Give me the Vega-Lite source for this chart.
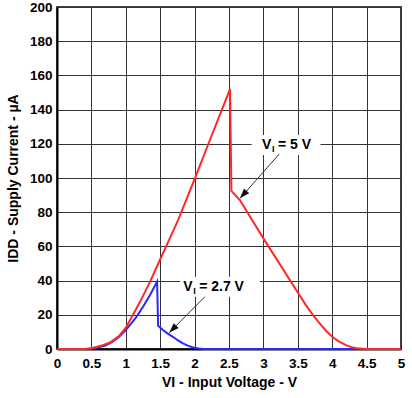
{
  "$schema": "https://vega.github.io/schema/vega-lite/v6.json",
  "width": 344,
  "height": 342,
  "autosize": {"type": "none"},
  "padding": {"left": 57, "top": 7, "right": 11, "bottom": 49},
  "background": "white",
  "config": {
    "view": {"stroke": "#000", "strokeWidth": 1.5},
    "font": "Liberation Sans",
    "axis": {
      "grid": true, "gridColor": "#333", "gridWidth": 1, "gridOpacity": 1,
      "ticks": false, "domainColor": "#000", "domainWidth": 2,
      "labelFont": "Liberation Sans", "labelFontWeight": "bold", "labelFontSize": 13.5, "labelColor": "#000",
      "titleFont": "Liberation Sans", "titleFontWeight": "bold", "titleFontSize": 14, "titleColor": "#000",
      "labelFlush": false, "labelOverlap": false
    },
    "axisX": {"labelPadding": 7, "titlePadding": 6},
    "axisY": {"labelPadding": 5, "titlePadding": 9}
  },
  "datasets": {
    "curves": [
      {"series": "5 V", "v": 0, "i": 0}, {"series": "5 V", "v": 0.4, "i": 0}, {"series": "5 V", "v": 0.5, "i": 0.5},
      {"series": "5 V", "v": 0.57, "i": 1.2}, {"series": "5 V", "v": 0.65, "i": 2}, {"series": "5 V", "v": 0.77, "i": 3.8},
      {"series": "5 V", "v": 0.9, "i": 7.5}, {"series": "5 V", "v": 1.0, "i": 12.5}, {"series": "5 V", "v": 1.105, "i": 20},
      {"series": "5 V", "v": 1.2, "i": 27}, {"series": "5 V", "v": 1.3, "i": 35}, {"series": "5 V", "v": 1.36, "i": 40},
      {"series": "5 V", "v": 1.5, "i": 52.5}, {"series": "5 V", "v": 1.64, "i": 64.7}, {"series": "5 V", "v": 1.76, "i": 75.4},
      {"series": "5 V", "v": 2.0, "i": 99.4}, {"series": "5 V", "v": 2.25, "i": 125}, {"series": "5 V", "v": 2.515, "i": 152},
      {"series": "5 V", "v": 2.535, "i": 92.5}, {"series": "5 V", "v": 2.66, "i": 87}, {"series": "5 V", "v": 3.0, "i": 64.7},
      {"series": "5 V", "v": 3.5, "i": 33}, {"series": "5 V", "v": 3.62, "i": 25.5}, {"series": "5 V", "v": 3.73, "i": 19.3},
      {"series": "5 V", "v": 3.82, "i": 14.8}, {"series": "5 V", "v": 3.91, "i": 10.7},
      {"series": "5 V", "v": 4.0, "i": 7.2}, {"series": "5 V", "v": 4.1, "i": 4.3}, {"series": "5 V", "v": 4.2, "i": 2.3},
      {"series": "5 V", "v": 4.28, "i": 1.1},
      {"series": "5 V", "v": 4.36, "i": 0.4}, {"series": "5 V", "v": 4.5, "i": 0}, {"series": "5 V", "v": 5, "i": 0},
      {"series": "2.7 V", "v": 0, "i": 0}, {"series": "2.7 V", "v": 0.45, "i": 0}, {"series": "2.7 V", "v": 0.55, "i": 0.5},
      {"series": "2.7 V", "v": 0.7, "i": 2}, {"series": "2.7 V", "v": 0.8, "i": 4}, {"series": "2.7 V", "v": 0.9, "i": 7},
      {"series": "2.7 V", "v": 1.0, "i": 11}, {"series": "2.7 V", "v": 1.15, "i": 18.5}, {"series": "2.7 V", "v": 1.25, "i": 24.7},
      {"series": "2.7 V", "v": 1.35, "i": 31.5}, {"series": "2.7 V", "v": 1.455, "i": 39.4}, {"series": "2.7 V", "v": 1.47, "i": 13.6},
      {"series": "2.7 V", "v": 1.54, "i": 11.1}, {"series": "2.7 V", "v": 1.61, "i": 9.0}, {"series": "2.7 V", "v": 1.69, "i": 7.0},
      {"series": "2.7 V", "v": 1.76, "i": 5.0}, {"series": "2.7 V", "v": 1.83, "i": 3.3},
      {"series": "2.7 V", "v": 1.9, "i": 2.0}, {"series": "2.7 V", "v": 1.98, "i": 0.9}, {"series": "2.7 V", "v": 2.06, "i": 0.3},
      {"series": "2.7 V", "v": 2.13, "i": 0}, {"series": "2.7 V", "v": 5, "i": 0}
    ],
    "notes": [
      {"label": "5 V", "x": 2.98, "y": 119.3, "sub": "I", "rest": "= 5 V", "bx1": 2.83, "bx2": 3.83, "by1": 113.5, "by2": 125.1, "ax1": 3.23, "ay1": 114, "ax2": 2.66, "ay2": 88.1},
      {"label": "2.7 V", "x": 1.834, "y": 36.4, "sub": "I", "rest": "= 2.7 V", "bx1": 1.79, "bx2": 2.95, "by1": 30.6, "by2": 42.2, "ax1": 2.15, "ay1": 30.6, "ax2": 1.63, "ay2": 9.5}
    ]
  },
  "layer": [
    {
      "data": {"name": "notes"},
      "mark": {"type": "rect", "fill": "white", "stroke": null},
      "encoding": {
        "x": {"field": "bx1", "type": "quantitative", "scale": {"domain": [0, 5]}, "axis": {"values": [0, 0.5, 1, 1.5, 2, 2.5, 3, 3.5, 4, 4.5, 5], "format": "~r", "title": "VI - Input Voltage - V"}},
        "x2": {"field": "bx2"},
        "y": {"field": "by1", "type": "quantitative", "scale": {"domain": [0, 200]}, "axis": {"values": [0, 20, 40, 60, 80, 100, 120, 140, 160, 180, 200], "format": "d", "title": "IDD - Supply Current - µA"}},
        "y2": {"field": "by2"}
      }
    },
    {
      "data": {"name": "curves"},
      "transform": [{"filter": "datum.series === '2.7 V'"}],
      "mark": {"type": "line", "color": "#2828ff", "strokeWidth": 2},
      "encoding": {
        "x": {"field": "v", "type": "quantitative", "axis": {"values": [0, 0.5, 1, 1.5, 2, 2.5, 3, 3.5, 4, 4.5, 5], "format": "~r", "title": "VI - Input Voltage - V"}},
        "y": {"field": "i", "type": "quantitative", "axis": {"values": [0, 20, 40, 60, 80, 100, 120, 140, 160, 180, 200], "format": "d", "title": "IDD - Supply Current - µA"}}
      }
    },
    {
      "data": {"name": "curves"},
      "transform": [{"filter": "datum.series === '5 V'"}],
      "mark": {"type": "line", "color": "#ff2828", "strokeWidth": 2},
      "encoding": {
        "x": {"field": "v", "type": "quantitative", "axis": {"values": [0, 0.5, 1, 1.5, 2, 2.5, 3, 3.5, 4, 4.5, 5], "format": "~r", "title": "VI - Input Voltage - V"}},
        "y": {"field": "i", "type": "quantitative", "axis": {"values": [0, 20, 40, 60, 80, 100, 120, 140, 160, 180, 200], "format": "d", "title": "IDD - Supply Current - µA"}}
      }
    },
    {
      "data": {"name": "notes"},
      "mark": {"type": "rule", "color": "#333", "strokeWidth": 1},
      "encoding": {
        "x": {"field": "ax1", "type": "quantitative", "axis": {"values": [0, 0.5, 1, 1.5, 2, 2.5, 3, 3.5, 4, 4.5, 5], "format": "~r", "title": "VI - Input Voltage - V"}},
        "y": {"field": "ay1", "type": "quantitative", "axis": {"values": [0, 20, 40, 60, 80, 100, 120, 140, 160, 180, 200], "format": "d", "title": "IDD - Supply Current - µA"}},
        "x2": {"field": "ax2"},
        "y2": {"field": "ay2"}
      }
    },
    {
      "data": {"name": "notes"},
      "transform": [{"filter": "datum.label === '5 V'"}],
      "mark": {"type": "point", "shape": "M0,0L-0.7,2L0.7,2Z", "size": 100, "filled": true, "color": "#111", "opacity": 1, "angle": 221.6},
      "encoding": {
        "x": {"field": "ax2", "type": "quantitative", "axis": {"values": [0, 0.5, 1, 1.5, 2, 2.5, 3, 3.5, 4, 4.5, 5], "format": "~r", "title": "VI - Input Voltage - V"}},
        "y": {"field": "ay2", "type": "quantitative", "axis": {"values": [0, 20, 40, 60, 80, 100, 120, 140, 160, 180, 200], "format": "d", "title": "IDD - Supply Current - µA"}}
      }
    },
    {
      "data": {"name": "notes"},
      "transform": [{"filter": "datum.label === '2.7 V'"}],
      "mark": {"type": "point", "shape": "M0,0L-0.7,2L0.7,2Z", "size": 100, "filled": true, "color": "#111", "opacity": 1, "angle": 224.7},
      "encoding": {
        "x": {"field": "ax2", "type": "quantitative", "axis": {"values": [0, 0.5, 1, 1.5, 2, 2.5, 3, 3.5, 4, 4.5, 5], "format": "~r", "title": "VI - Input Voltage - V"}},
        "y": {"field": "ay2", "type": "quantitative", "axis": {"values": [0, 20, 40, 60, 80, 100, 120, 140, 160, 180, 200], "format": "d", "title": "IDD - Supply Current - µA"}}
      }
    },
    {
      "data": {"name": "notes"},
      "mark": {"type": "text", "align": "left", "baseline": "middle", "font": "Liberation Sans", "fontWeight": "bold", "fontSize": 14, "color": "#000"},
      "encoding": {
        "x": {"field": "x", "type": "quantitative", "axis": {"values": [0, 0.5, 1, 1.5, 2, 2.5, 3, 3.5, 4, 4.5, 5], "format": "~r", "title": "VI - Input Voltage - V"}},
        "y": {"field": "y", "type": "quantitative", "axis": {"values": [0, 20, 40, 60, 80, 100, 120, 140, 160, 180, 200], "format": "d", "title": "IDD - Supply Current - µA"}},
        "text": {"value": "V"}
      }
    },
    {
      "data": {"name": "notes"},
      "mark": {"type": "text", "align": "left", "baseline": "middle", "font": "Liberation Sans", "fontWeight": "bold", "fontSize": 9, "color": "#000", "dx": 10, "dy": 4},
      "encoding": {
        "x": {"field": "x", "type": "quantitative", "axis": {"values": [0, 0.5, 1, 1.5, 2, 2.5, 3, 3.5, 4, 4.5, 5], "format": "~r", "title": "VI - Input Voltage - V"}},
        "y": {"field": "y", "type": "quantitative", "axis": {"values": [0, 20, 40, 60, 80, 100, 120, 140, 160, 180, 200], "format": "d", "title": "IDD - Supply Current - µA"}},
        "text": {"field": "sub"}
      }
    },
    {
      "data": {"name": "notes"},
      "mark": {"type": "text", "align": "left", "baseline": "middle", "font": "Liberation Sans", "fontWeight": "bold", "fontSize": 14, "color": "#000", "dx": 16},
      "encoding": {
        "x": {"field": "x", "type": "quantitative", "axis": {"values": [0, 0.5, 1, 1.5, 2, 2.5, 3, 3.5, 4, 4.5, 5], "format": "~r", "title": "VI - Input Voltage - V"}},
        "y": {"field": "y", "type": "quantitative", "axis": {"values": [0, 20, 40, 60, 80, 100, 120, 140, 160, 180, 200], "format": "d", "title": "IDD - Supply Current - µA"}},
        "text": {"field": "rest"}
      }
    }
  ]
}
